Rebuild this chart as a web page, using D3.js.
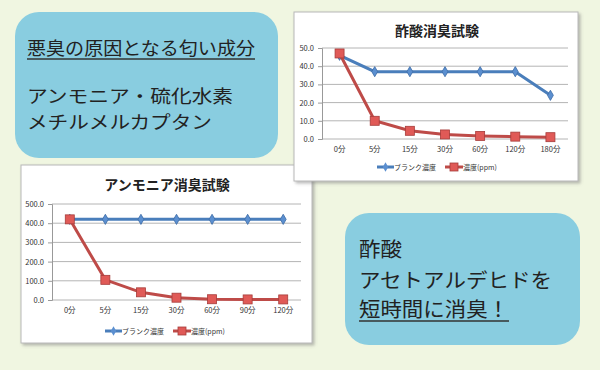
<!DOCTYPE html>
<html>
<head>
<meta charset="utf-8">
<script src="https://cdn.jsdelivr.net/npm/d3@7"></script>
<style>
  body { margin: 0; background: #f0f6e1; }
  text { font-family: "Noto Sans CJK JP", sans-serif; }
</style>
</head>
<body>
<script>
// 酢酸
var aceticCats = ["0分", "5分", "15分", "30分", "60分", "120分", "180分"];
var aceticBlank = [46, 37, 37, 37, 37, 37, 24];
var aceticPpm = [47, 10, 4.5, 2.5, 1.7, 1.3, 1];
var aceticTicks = [0, 10, 20, 30, 40, 50];

// アンモニア
var ammoniaCats = ["0分", "5分", "15分", "30分", "60分", "90分", "120分"];
var ammoniaBlank = [420, 420, 420, 420, 420, 420, 420];
var ammoniaPpm = [420, 105, 40, 12, 4, 3, 3];
var ammoniaTicks = [0, 100, 200, 300, 400, 500];

var seriesNames = ["ブランク濃度", "濃度(ppm)"];

var W = 600, H = 370;

var svg = d3.select("body").append("svg")
    .attr("width", W)
    .attr("height", H);

var defs = svg.append("defs");
defs.append("filter").attr("id", "shadow")
    .attr("x", "-5%").attr("y", "-5%").attr("width", "115%").attr("height", "115%")
  .append("feDropShadow")
    .attr("dx", 2).attr("dy", 2).attr("stdDeviation", 1.5)
    .attr("flood-color", "#777").attr("flood-opacity", 0.5);

svg.append("rect").attr("width", W).attr("height", H).attr("fill", "#f0f6e1");

// 水色の枠
function note(x, y, w, h, lines, size) {
  var g = svg.append("g");
  g.append("rect")
      .attr("x", x).attr("y", y).attr("width", w).attr("height", h)
      .attr("rx", 24).attr("fill", "#89cde0");
  lines.forEach(l => {
    g.append("text")
        .attr("x", l.x).attr("y", l.y)
        .attr("font-size", size)
        .attr("fill", "#222")
        .attr("textLength", l.w)
        .attr("lengthAdjust", "spacingAndGlyphs")
        .text(l.text);
    if (l.under) {
      g.append("line")
          .attr("x1", l.x).attr("x2", l.x + l.w)
          .attr("y1", l.y + 4).attr("y2", l.y + 4)
          .attr("stroke", "#333").attr("stroke-width", 1.5);
    }
  });
}

note(15, 12, 263, 146, [
  {text: "悪臭の原因となる匂い成分", x: 27, y: 55, w: 228, under: true},
  {text: "アンモニア・硫化水素", x: 27, y: 103, w: 206},
  {text: "メチルメルカプタン", x: 27, y: 129, w: 185}
], 18);

note(345, 213, 235, 132, [
  {text: "酢酸", x: 359, y: 257, w: 43},
  {text: "アセトアルデヒドを", x: 359, y: 288, w: 193},
  {text: "短時間に消臭！", x: 359, y: 317, w: 150, under: true}
], 20);

function drawChart(o) {
  var g = svg.append("g");
  g.append("rect")
      .attr("x", o.x).attr("y", o.y).attr("width", o.w).attr("height", o.h)
      .attr("fill", "#fff").attr("stroke", "#b8b8b8").attr("stroke-width", 1)
      .attr("filter", "url(#shadow)");

  g.append("text")
      .attr("x", o.titleX).attr("y", o.titleY)
      .attr("text-anchor", "middle")
      .attr("font-size", 14).attr("font-weight", "bold")
      .attr("fill", "#222")
      .text(o.title);

  var x = d3.scaleBand().domain(o.cats).range([o.left, o.right]);
  var y = d3.scaleLinear().domain([0, d3.max(o.ticks)]).range([o.bottom, o.top]);

  // グリッド
  g.append("g").selectAll("line").data(o.ticks).enter().append("line")
      .attr("x1", o.left).attr("x2", o.right)
      .attr("y1", d => y(d)).attr("y2", d => y(d))
      .attr("stroke", "#b4b4b4").attr("stroke-width", 1);

  var yAxis = g.append("g")
      .attr("transform", `translate(${o.left},0)`)
      .call(d3.axisLeft(y).tickValues(o.ticks).tickFormat(d3.format(".1f")).tickSize(4).tickPadding(4));
  yAxis.selectAll("line, path").attr("stroke", "#999");
  yAxis.selectAll("text").attr("font-size", 7.5).attr("fill", "#333")
      .style("font-family", "'Noto Sans CJK JP', sans-serif");

  var xAxis = g.append("g")
      .attr("transform", `translate(0,${o.bottom})`)
      .call(d3.axisBottom(x).tickSize(0).tickPadding(8));
  xAxis.select("path").remove();
  xAxis.selectAll("text").attr("font-size", 7.5).attr("fill", "#333")
      .style("font-family", "'Noto Sans CJK JP', sans-serif");

  var cx = d => x(d) + x.bandwidth() / 2;
  var line = d3.line().x((d, i) => cx(o.cats[i])).y(d => y(d));

  // ブランク濃度
  g.append("path").datum(o.blank)
      .attr("d", line).attr("fill", "none")
      .attr("stroke", "#4a7ebb").attr("stroke-width", 3);
  g.append("g").selectAll("path").data(o.blank).enter().append("path")
      .attr("d", d3.symbol(d3.symbolDiamond, 30))
      .attr("transform", (d, i) => `translate(${cx(o.cats[i])},${y(d)})`)
      .attr("fill", "#5b8fd0").attr("stroke", "#3e6ca6").attr("stroke-width", 0.8);

  // 濃度(ppm)
  g.append("path").datum(o.ppm)
      .attr("d", line).attr("fill", "none")
      .attr("stroke", "#be4b48").attr("stroke-width", 3);
  g.append("g").selectAll("rect").data(o.ppm).enter().append("rect")
      .attr("x", (d, i) => cx(o.cats[i]) - 4.5).attr("y", d => y(d) - 4.5)
      .attr("width", 9).attr("height", 9)
      .attr("fill", "#e05a57").attr("stroke", "#a63c3a").attr("stroke-width", 0.8);

  // 凡例
  var lg = g.append("g").attr("transform", `translate(${o.legendX},${o.legendY})`);
  lg.append("line").attr("x1", 0).attr("x2", 17).attr("stroke", "#4a7ebb").attr("stroke-width", 3);
  lg.append("path").attr("d", d3.symbol(d3.symbolDiamond, 26))
      .attr("transform", "translate(8.5,0)").attr("fill", "#5b8fd0");
  lg.append("text").attr("x", 17).attr("y", 2.5).attr("font-size", 7).attr("fill", "#333")
      .text(seriesNames[0]);
  lg.append("line").attr("x1", 68).attr("x2", 86).attr("stroke", "#be4b48").attr("stroke-width", 3);
  lg.append("rect").attr("x", 73).attr("y", -4).attr("width", 8).attr("height", 8)
      .attr("fill", "#e05a57").attr("stroke", "#a63c3a").attr("stroke-width", 0.8);
  lg.append("text").attr("x", 86).attr("y", 2.5).attr("font-size", 7).attr("fill", "#333")
      .text(seriesNames[1]);
}

drawChart({
  x: 21, y: 165, w: 291, h: 178,
  title: "アンモニア消臭試験", titleX: 167, titleY: 190,
  cats: ammoniaCats, blank: ammoniaBlank, ppm: ammoniaPpm, ticks: ammoniaTicks,
  left: 52, right: 301, top: 204, bottom: 300,
  legendX: 105, legendY: 331
});

drawChart({
  x: 294, y: 12, w: 284, h: 169,
  title: "酢酸消臭試験", titleX: 437, titleY: 36,
  cats: aceticCats, blank: aceticBlank, ppm: aceticPpm, ticks: aceticTicks,
  left: 322, right: 568, top: 48, bottom: 139,
  legendX: 377, legendY: 167
});
</script>
</body>
</html>
